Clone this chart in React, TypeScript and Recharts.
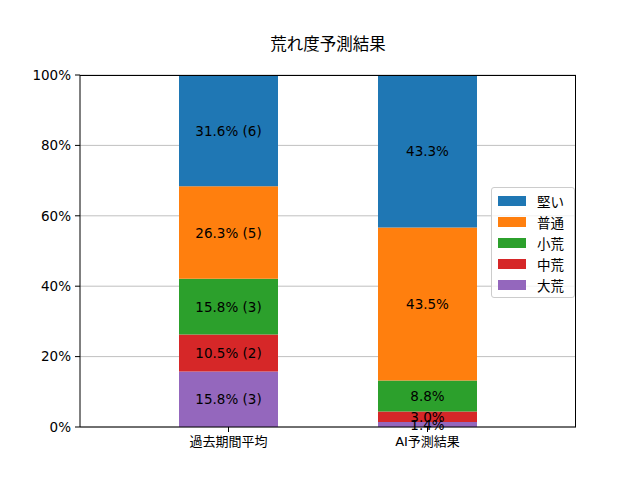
import { BarChart, Bar, XAxis, YAxis, CartesianGrid, LabelList } from 'recharts';

const categories = ['過去期間平均', 'AI予測結果'];
const seriesNames = ['大荒', '中荒', '小荒', '普通', '堅い'];
const daiare = [15.8, 1.4];
const chuare = [10.5, 3.0];
const shoare = [15.8, 8.8];
const futsu = [26.3, 43.5];
const katai = [31.6, 43.3];
// counts shown only for the past-period bar, same order as seriesNames
const pastCounts = [3, 2, 3, 5, 6];
const yTicks = [0, 20, 40, 60, 80, 100];

const colors = ['#9467bd', '#d62728', '#2ca02c', '#ff7f0e', '#1f77b4'];
const seriesValues = [daiare, chuare, shoare, futsu, katai];

const data = categories.map((name, i) => {
  const row: { [key: string]: string | number } = { name };
  seriesNames.forEach((s, j) => {
    row[s] = seriesValues[j][i];
  });
  return row;
});

const FONT = '"DejaVu Sans", "Noto Sans CJK JP", sans-serif';

const makeLabel = (seriesIndex: number) => (props: any) => {
  const { x, y, width, height, value, index } = props;
  const text = index === 0
    ? `${Number(value).toFixed(1)}% (${pastCounts[seriesIndex]})`
    : `${Number(value).toFixed(1)}%`;
  return (
    <text
      x={x + width / 2}
      y={y + height / 2}
      textAnchor="middle"
      dominantBaseline="central"
      fontSize={13.5}
      fontFamily={FONT}
      fill="#000"
    >
      {text}
    </text>
  );
};

const LegendBox = () => (
  <div
    style={{
      position: 'absolute',
      left: 491,
      top: 187,
      width: 70,
      border: '1px solid #cccccc',
      borderRadius: 3,
      background: 'rgba(255,255,255,0.8)',
      padding: '2px 6px 2px 6px',
      fontFamily: FONT,
      fontSize: 13.5,
    }}
  >
    {[...seriesNames].reverse().map((s) => {
      const c = colors[seriesNames.indexOf(s)];
      return (
        <div key={s} style={{ display: 'flex', alignItems: 'center', height: 21 }}>
          <span style={{ width: 28, height: 10, background: c, display: 'inline-block', marginRight: 11 }} />
          <span>{s}</span>
        </div>
      );
    })}
  </div>
);

const App = () => {
  return (
    <div style={{ position: 'absolute', left: 0, top: 0, width: 640, height: 480, background: '#fff' }}>
      <div
        style={{
          position: 'absolute',
          left: 80,
          width: 496,
          top: 31,
          textAlign: 'center',
          fontFamily: FONT,
          fontSize: 16.5,
        }}
      >
        荒れ度予測結果
      </div>
      <BarChart
        width={640}
        height={480}
        data={data}
        margin={{ top: 75, right: 64, left: 0, bottom: 0 }}
        barCategoryGap={0}
      >
        <CartesianGrid vertical={false} stroke="#b0b0b0" strokeWidth={0.8} />
        <XAxis
          dataKey="name"
          padding={{ left: 49, right: 49 }}
          height={53}
          tickSize={5}
          tickMargin={5}
          axisLine={{ stroke: '#000', strokeWidth: 1 }}
          tickLine={{ stroke: '#000' }}
          tick={{ fill: '#000', fontSize: 13, fontFamily: FONT }}
        />
        <YAxis
          width={80}
          domain={[0, 100]}
          ticks={yTicks}
          allowDataOverflow
          tickFormatter={(v) => `${v}%`}
          tickSize={5}
          tickMargin={4}
          axisLine={{ stroke: '#000', strokeWidth: 1 }}
          tickLine={{ stroke: '#000' }}
          tick={{ fill: '#000', fontSize: 13.5, fontFamily: FONT }}
        />
        {seriesNames.map((s, i) => (
          <Bar key={s} dataKey={s} stackId="a" fill={colors[i]} barSize={99} isAnimationActive={false}>
            <LabelList dataKey={s} content={makeLabel(i)} />
          </Bar>
        ))}
      </BarChart>
      {/* plot frame (top and right spines) */}
      <div
        style={{
          position: 'absolute',
          left: 80,
          top: 75,
          width: 496,
          height: 352,
          borderTop: '1px solid #000',
          borderRight: '1px solid #000',
          boxSizing: 'border-box',
          pointerEvents: 'none',
        }}
      />
      <LegendBox />
    </div>
  );
};

export default App;
